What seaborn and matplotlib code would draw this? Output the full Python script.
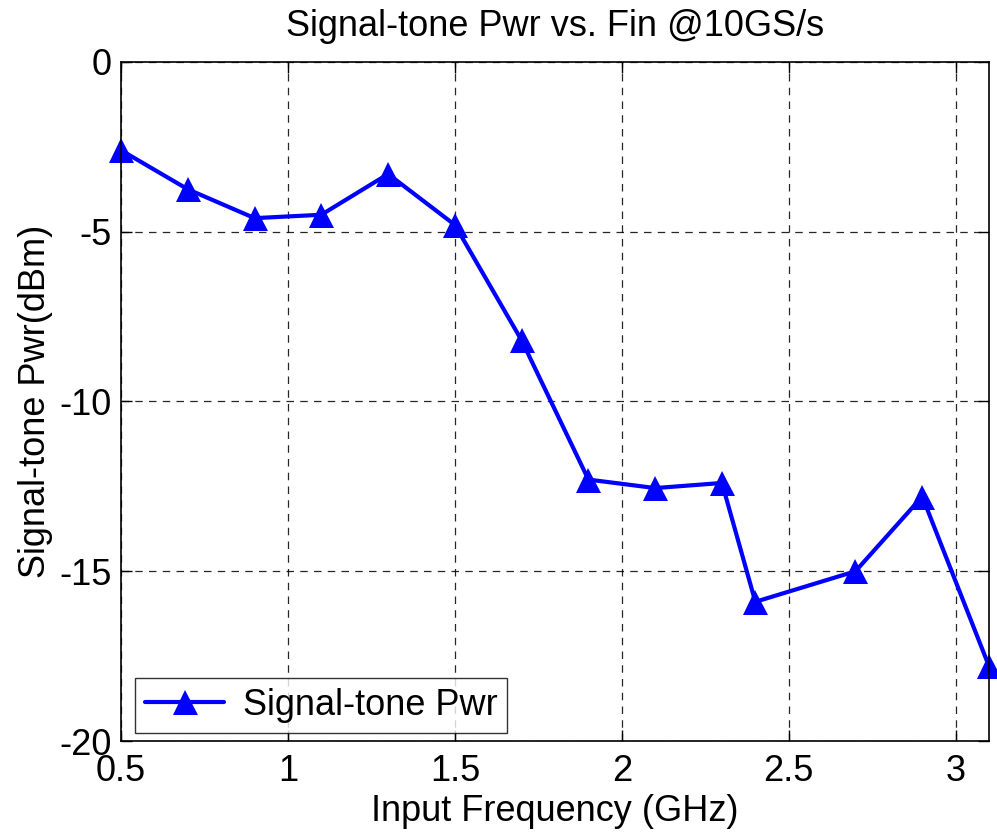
import matplotlib
matplotlib.use("Agg")
import matplotlib.pyplot as plt
import numpy as np
import pandas as pd
import seaborn as sns

# values
freq_ghz = [0.5, 0.7, 0.9, 1.1, 1.3, 1.5, 1.7, 1.9, 2.1, 2.3, 2.4, 2.7, 2.9, 3.1]
sig_pwr_dbm = [-2.6, -3.75, -4.6, -4.5, -3.3, -4.8, -8.2, -12.3, -12.55, -12.4,
               -15.9, -15.0, -12.8, -17.8]
x_ticks = [0.5, 1, 1.5, 2, 2.5, 3]
x_tick_labels = ["0.5", "1", "1.5", "2", "2.5", "3"]
y_ticks = [-20, -15, -10, -5, 0]
series_name = "Signal-tone Pwr"

df = pd.DataFrame({"freq": freq_ghz, "pwr": sig_pwr_dbm, "series": series_name})

sns.set_theme(style="white")
plt.rcParams["font.family"] = ["Liberation Sans", "DejaVu Sans"]
plt.rcParams["axes.unicode_minus"] = False
plt.rcParams["text.color"] = "black"
plt.rcParams["axes.labelcolor"] = "black"

fig = plt.figure(figsize=(9.97, 8.34), dpi=100)
ax = fig.add_axes([0.1214, 0.1115, 0.8706, 0.8142])

sns.lineplot(data=df, x="freq", y="pwr", hue="series", palette=["#0000ff"],
             marker="^", markersize=18, markeredgewidth=0, linewidth=3,
             ax=ax, clip_on=False)

ax.set_xlim(0.5, 3.1)
ax.set_ylim(-20, 0)
ax.set_xticks(x_ticks)
ax.set_xticklabels(x_tick_labels)
ax.set_yticks(y_ticks)
ax.tick_params(axis="both", labelsize=26, direction="in", length=8, width=1,
               top=True, right=True, bottom=True, left=True, colors="black")
ax.tick_params(axis="x", pad=9)
ax.tick_params(axis="y", pad=7)
ax.grid(True, linestyle=(0, (6, 5)), color="black", linewidth=0.9, alpha=0.85)
for s in ax.spines.values():
    s.set_color("black")
    s.set_linewidth(1.2)

ax.set_xlabel("Input Frequency (GHz)", fontsize=26, labelpad=4)
ax.set_ylabel("Signal-tone Pwr(dBm)", fontsize=26, labelpad=4)
ax.set_title("Signal-tone Pwr vs. Fin @10GS/s", fontsize=26, pad=19)

leg = ax.legend(loc="lower left", fontsize=26, frameon=True, fancybox=False,
                edgecolor="black", borderpad=0.28, handlelength=2.2,
                handletextpad=0.5, bbox_to_anchor=(0.016, 0.012), borderaxespad=0)
leg.get_frame().set_linewidth(1.0)
for h in leg.legend_handles:
    h.set_markersize(18)
    h.set_linewidth(3)

fig.savefig("out.png", dpi=100)
